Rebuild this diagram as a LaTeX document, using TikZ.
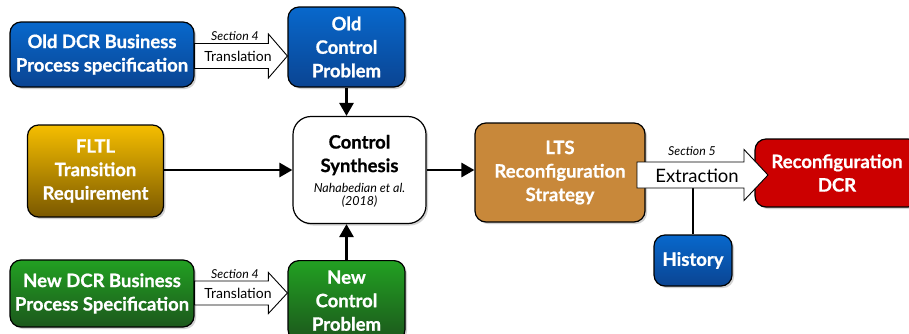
\documentclass[tikz,border=0pt]{standalone}
\usepackage{fontspec}
\setmainfont{Lato}[BoldFeatures={FakeBold=0.8}]
\usetikzlibrary{calc,shadows,arrows.meta}
\definecolor{bluetop}{RGB}{8,104,204}
\definecolor{bluebot}{RGB}{10,68,146}
\definecolor{goldtop}{RGB}{245,190,0}
\definecolor{goldbot}{RGB}{122,88,0}
\definecolor{greentop}{RGB}{34,160,34}
\definecolor{greenbot}{RGB}{28,88,28}
\definecolor{ltsbrown}{RGB}{200,136,58}
\definecolor{dcrred}{RGB}{204,0,0}
\newcommand\fatarrow[5]{%
\draw[fatarr] ($(#1)+(0,-#3)$) -- ($(#2)+(-#5,-#3)$) -- ($(#2)+(-#5,-#4)$) -- (#2) -- ($(#2)+(-#5,#4)$) -- ($(#2)+(-#5,#3)$) -- ($(#1)+(0,#3)$) -- cycle;}
\begin{document}
\begin{tikzpicture}[x=1pt,y=-1pt,
  box/.style={draw=black, line width=1.2pt, rounded corners=11pt, align=center,
    text=white, font=\fontsize{18.5}{23.5}\selectfont\bfseries, inner sep=0pt,
    drop shadow={shadow xshift=2pt, shadow yshift=-2pt, opacity=0.35}},
  bluebox/.style={box, top color=bluetop, bottom color=bluebot},
  goldbox/.style={box, top color=goldtop, bottom color=goldbot},
  greenbox/.style={box, top color=greentop, bottom color=greenbot},
  conn/.style={line width=2.8pt, -{Triangle[length=13pt,width=14pt]}},
  fatarr/.style={draw=black, fill=white, line width=0.9pt, line join=miter},
  seclab/.style={font=\fontsize{12.3}{13}\selectfont\itshape, inner sep=0pt},
  trlab/.style={font=\fontsize{14}{15}\selectfont, inner sep=0pt},
]
\useasboundingbox (0,0) rectangle (909,333);
\fill[white] (0,0) rectangle (909,333);

% boxes
\node[bluebox, minimum width=184pt, minimum height=65pt] (olddcr) at (102,54.5) {Old DCR Business\\Process specification};
\node[bluebox, minimum width=117pt, minimum height=80pt] (ocp) at (346.5,47) {Old\\Control\\Problem};
\node[goldbox, minimum width=136pt, minimum height=92pt] (fltl) at (95.5,171) {FLTL\\Transition\\Requirement};
\node[box, fill=white, text=black, rounded corners=18pt, minimum width=133pt, minimum height=107pt] (cs) at (359.5,170) {};
\node[align=center, font=\fontsize{18.5}{23.5}\selectfont\bfseries, inner sep=0pt] (cstitle) at (359.5,155) {Control\\Synthesis};
\node[align=center, font=\fontsize{12.5}{13}\selectfont\itshape, inner sep=0pt] (csref) at (359.5,195) {Nahabedian et al.\\(2018)};
\node[box, fill=ltsbrown, minimum width=170pt, minimum height=99pt] (lts) at (560,172.5) {LTS\\Reconfiguration\\Strategy};
\node[box, fill=dcrred, minimum width=164pt, minimum height=68pt] (rdcr) at (837,173) {Reconfiguration\\DCR};
\node[bluebox, minimum width=78pt, minimum height=51pt] (hist) at (693,260.5) {History};
\node[greenbox, minimum width=184pt, minimum height=67pt] (newdcr) at (102,293.5) {New DCR Business\\Process Specification};
\node[greenbox, minimum width=117pt, minimum height=80pt, anchor=north] (ncp) at (346.5,260) {New\\Control\\Problem};

% connectors
\draw[conn] (ocp.south) -- (cs.north -| ocp.south);
\draw[conn] (fltl.east |- cs.west) -- (cs.west);
\draw[conn] (cs.east) -- (lts.west |- cs.east);
\draw[conn] (ncp.north) -- (cs.south -| ncp.north);

% fat arrows
\coordinate (a1s) at (olddcr.east |- 0,56);
\coordinate (a1e) at (ocp.west |- 0,56);
\fatarrow{a1s}{a1e}{12.5}{22}{19}
\node[trlab] (tr1) at (238,56) {Translation};
\node[seclab] (s1) at (235,36) {Section 4};

\coordinate (a2s) at (newdcr.east |- 0,293);
\coordinate (a2e) at (ncp.west |- 0,293);
\fatarrow{a2s}{a2e}{12}{20.5}{19}
\node[trlab] (tr2) at (238,293) {Translation};
\node[seclab] (s2) at (235,274) {Section 4};

\coordinate (a3s) at (637,175);
\coordinate (a3e) at (768,175);
\draw[line width=2pt] (hist.north) -- (hist.north |- 0,187);
\fatarrow{a3s}{a3e}{13}{25.5}{24}
\node[font=\fontsize{18.5}{19}\selectfont, inner sep=0pt] (ext) at (697,176) {Extraction};
\node[seclab] (s3) at (692,151) {Section 5};
\end{tikzpicture}
\end{document}
